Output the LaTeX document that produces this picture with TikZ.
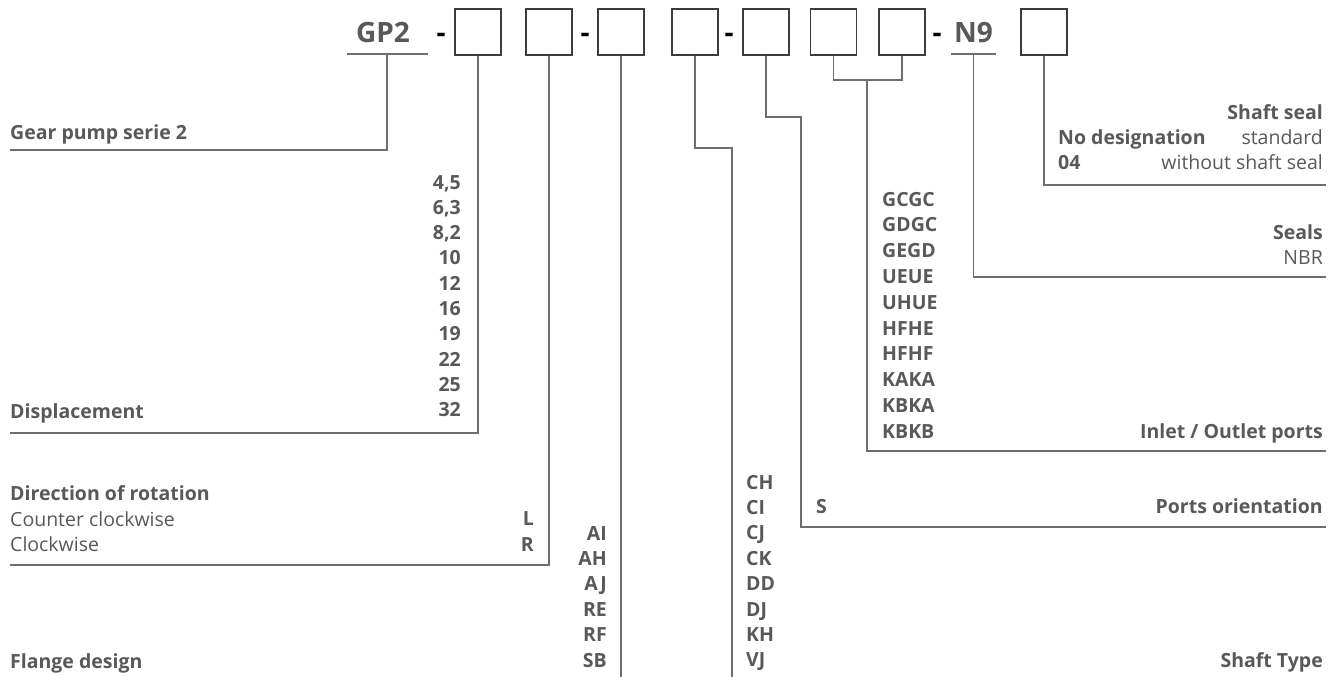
\documentclass[tikz,border=0pt]{standalone}
\usepackage{fontspec}
\setmainfont{Open Sans}
\definecolor{tgray}{HTML}{58595B}
\definecolor{linec}{HTML}{6D6E70}
\definecolor{boxc}{HTML}{3C3C3C}
\begin{document}
\begin{tikzpicture}[x=1pt,y=-1pt,
  txt/.style={text=tgray,inner sep=0pt,font=\fontsize{19.5}{22}\selectfont},
  bt/.style={text=tgray,inner sep=0pt,font=\fontsize{19.5}{22}\selectfont\bfseries},
  big/.style={text=tgray,inner sep=0pt,font=\fontsize{28}{30}\selectfont\bfseries},
  dashtxt/.style={text=black,inner sep=0pt,font=\fontsize{28}{30}\selectfont\bfseries},
  codebox/.style={draw=boxc,line width=1.1pt,minimum width=46pt,minimum height=46pt,inner sep=0pt},
  conn/.style={draw=linec,line width=1.3pt},
  uline/.style={draw=linec,line width=1.3pt}]
\useasboundingbox (0,0) rectangle (1328,677);
\fill[white] (0,0) rectangle (1328,677);

% ---- header ----
\node[big,anchor=base] (gp2) at (383,43) {GP2};
\coordinate (gpl) at (347,54); \coordinate (gpr) at (428,54);
\draw[uline] (gpl) -- (gpr);
\coordinate (gpu) at (387,54);

\node[codebox] (b1) at (478,32) {};
\node[codebox] (b2) at (549,32) {};
\node[codebox] (b3) at (621,32) {};
\node[codebox] (b4) at (695,32) {};
\node[codebox] (b5) at (766,32) {};
\node[codebox] (b6) at (833.5,32) {};
\node[codebox] (b7) at (902,32) {};
\node[codebox] (b8) at (1044,32) {};

\node[dashtxt,anchor=base] (d1) at (441,43) {-};
\node[dashtxt,anchor=base] (d2) at (585,43) {-};
\node[dashtxt,anchor=base] (d3) at (729,43) {-};
\node[dashtxt,anchor=base] (d4) at (937,43) {-};

\node[big,anchor=base] (n9) at (973.5,43) {N9};
\coordinate (nl) at (951,54); \coordinate (nr) at (996,54);
\draw[uline] (nl) -- (nr);
\coordinate (nu) at (973.5,54);

% ---- end points ----
\coordinate (e1) at (10,150);
\coordinate (e2) at (10,433);
\coordinate (e3) at (10,565);
\coordinate (e4) at (621,677);
\coordinate (k4) at (732,148);
\coordinate (e5) at (732,677);
\coordinate (k5) at (801,117);
\coordinate (e6) at (1326,527);
\coordinate (k6) at (867,80);
\coordinate (e7) at (1326,451);
\coordinate (e8) at (1326,277);
\coordinate (e9) at (1326,185);

% ---- connectors ----
\draw[conn] (gpu) |- (e1);
\draw[conn] (b1.south) |- (e2);
\draw[conn] (b2.south) |- (e3);
\draw[conn] (b3.south) -- (e4);
\draw[conn] (b4.south) |- (k4) -- (e5);
\draw[conn] (b5.south) |- (k5) |- (e6);
\draw[conn] (b6.south) |- (k6) -| (b7.south);
\draw[conn] (k6) |- (e7);
\draw[conn] (nu) |- (e8);
\draw[conn] (b8.south) |- (e9);

% ---- left texts ----
\node[bt,anchor=base west] (t1) at (10,139) {Gear pump serie 2};
\node[bt,anchor=base west] (t2) at (10,418) {Displacement};
\foreach \v [count=\i] in {{4,5},{6,3},{8,2},10,12,16,19,22,25,32}
  \node[bt,anchor=base east] (disp\i) at (461,{189+25.3*(\i-1)}) {\v};

\node[bt,anchor=base west] (t3) at (10,500) {Direction of rotation};
\node[txt,anchor=base west] (t4) at (10,526) {Counter clockwise};
\node[txt,anchor=base west] (t5) at (10,551) {Clockwise};
\node[bt,anchor=base east] (rl) at (534,525) {L};
\node[bt,anchor=base east] (rr) at (534,551) {R};

\node[bt,anchor=base west] (t6) at (10,668) {Flange design};
\foreach \v [count=\i] in {AI,AH,AJ,RE,RF,SB}
  \node[bt,anchor=base east] (fl\i) at (607,{540+25.4*(\i-1)}) {\v};

\foreach \v [count=\i] in {CH,CI,CJ,CK,DD,DJ,KH,VJ}
  \node[bt,anchor=base west] (sh\i) at (746,{489+25.4*(\i-1)}) {\v};
\node[bt,anchor=base east] (t7) at (1323,667) {Shaft Type};

\node[bt,anchor=base west] (po) at (816,513) {S};
\node[bt,anchor=base east] (t8) at (1323,513) {Ports orientation};

\foreach \v [count=\i] in {GCGC,GDGC,GEGD,UEUE,UHUE,HFHE,HFHF,KAKA,KBKA,KBKB}
  \node[bt,anchor=base west] (io\i) at (882,{206+25.8*(\i-1)}) {\v};
\node[bt,anchor=base east] (t9) at (1323,438) {Inlet / Outlet ports};

\node[bt,anchor=base east] (t10) at (1323,239) {Seals};
\node[txt,anchor=base east] (t11) at (1323,264) {NBR};

\node[bt,anchor=base east] (t12) at (1323,119) {Shaft seal};
\node[bt,anchor=base west] (t13) at (1058,144) {No designation};
\node[txt,anchor=base east] (t14) at (1323,144) {standard};
\node[bt,anchor=base west] (t15) at (1058,169) {04};
\node[txt,anchor=base east] (t16) at (1323,169) {without shaft seal};
\end{tikzpicture}
\end{document}
